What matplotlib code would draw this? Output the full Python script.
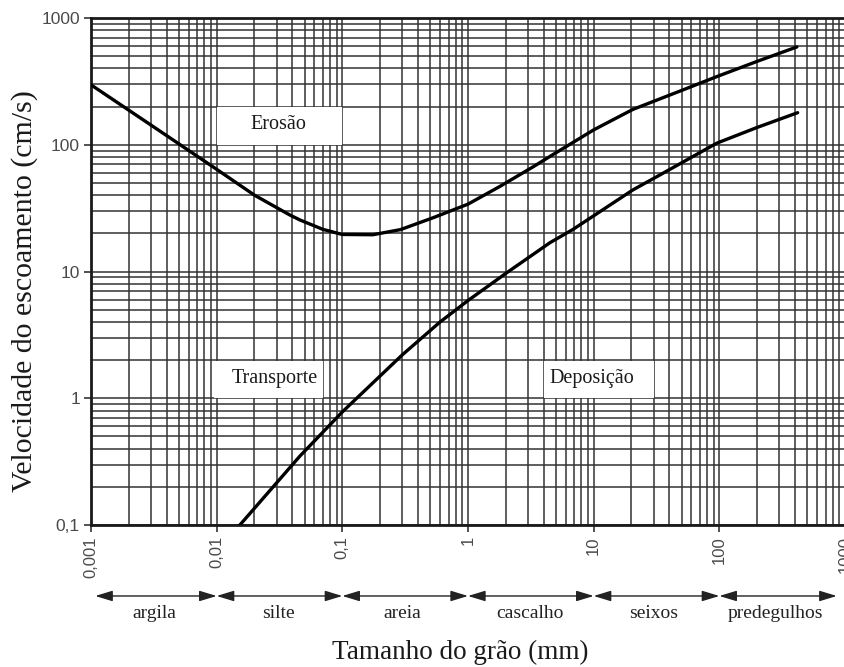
import matplotlib
matplotlib.use("Agg")
import matplotlib.pyplot as plt
from matplotlib import font_manager
from matplotlib.patches import Rectangle

# ---- data ----
erosion_x = [0.001, 0.003, 0.01, 0.02, 0.038, 0.046, 0.07, 0.1, 0.175, 0.29, 0.53, 1.0,
             1.8, 3.3, 4.5, 10, 20.5, 50, 95.6, 200, 414]
erosion_y = [297, 143, 64, 40, 28, 25.5, 21.5, 19.6, 19.5, 21.4, 26.6, 34,
             47, 67, 81, 131, 190, 268, 345, 455, 591]

deposition_x = [0.0153, 0.046, 0.1, 0.3, 0.6, 1.0, 2.04, 4.5, 6.8, 10, 20.5, 31.8, 95.6, 200, 420]
deposition_y = [0.1, 0.35, 0.78, 2.2, 4.0, 5.9, 9.8, 16.9, 21.4, 27.5, 44, 56, 103, 137, 179]

x_ticks = [0.001, 0.01, 0.1, 1, 10, 100, 1000]
x_ticklabels = ["0,001", "0,01", "0,1", "1", "10", "100", "1000"]
y_ticks = [0.1, 1, 10, 100, 1000]
y_ticklabels = ["0,1", "1", "10", "100", "1000"]

class_bounds = [0.00108, 0.01, 0.1, 1, 10, 100, 860]
class_names = ["argila", "silte", "areia", "cascalho", "seixos", "predegulhos"]
class_label_x = [0.0032, 0.031, 0.3, 3.1, 30, 280]

region_labels = ["Erosão", "Transporte", "Deposição"]
region_text_xy = [(0.031, 145), (0.029, 1.42), (9.7, 1.42)]
region_boxes = [(0.01, 0.1, 100, 200), (0.0095, 0.07, 1.0, 1.97), (4.0, 30, 1.0, 1.97)]

# ---- fonts ----
avail = {f.name for f in font_manager.fontManager.ttflist}
serif = "Liberation Serif" if "Liberation Serif" in avail else "DejaVu Serif"
sans = "Liberation Sans" if "Liberation Sans" in avail else "DejaVu Sans"
narrow = "Liberation Sans Narrow" if "Liberation Sans Narrow" in avail else None

fig = plt.figure(figsize=(8.44, 6.67), dpi=100)
ax = fig.add_axes([91 / 844, 1 - 525 / 667, (845 - 91) / 844, 507 / 667])
ax.set_xscale("log")
ax.set_yscale("log")
ax.set_xlim(0.001, 1000)
ax.set_ylim(0.1, 1000)

ax.grid(True, which="both", color="#333333", linewidth=1.1, zorder=1)
ax.set_axisbelow(True)

# white boxes behind region labels
for (x0, x1, y0, y1) in region_boxes:
    ax.add_patch(Rectangle((x0, y0), x1 - x0, y1 - y0, facecolor="white",
                           edgecolor="none", zorder=1.5))
for lab, (tx, ty) in zip(region_labels, region_text_xy):
    ax.text(tx, ty, lab, ha="center", va="center", fontsize=14.5, family=serif,
            color="#1a1a1a", zorder=2)

ax.plot(erosion_x, erosion_y, color="black", lw=2.4, zorder=3, solid_capstyle="round")
ax.plot(deposition_x, deposition_y, color="black", lw=2.4, zorder=3, solid_capstyle="round")

for side in ["left", "bottom", "top"]:
    ax.spines[side].set_linewidth(2.0)
    ax.spines[side].set_color("#1a1a1a")
ax.spines["right"].set_visible(False)

ax.set_xticks(x_ticks)
ax.set_yticks(y_ticks)
ax.set_xticklabels(x_ticklabels, rotation=90)
ax.set_yticklabels(y_ticklabels)
ax.tick_params(which="minor", length=0)
ax.tick_params(which="major", direction="out", length=5, width=1.2, color="#333333",
               labelcolor="#4a4a4a", pad=3)
for t in ax.get_yticklabels():
    t.set_family(sans)
    t.set_fontsize(12.5)
for t in ax.get_xticklabels():
    if narrow:
        t.set_family(narrow)
        t.set_fontsize(14.5)
    else:
        t.set_family(sans)
        t.set_fontsize(12)

# grain-size class arrows below the axis
arrow_y = -0.14
for i in range(len(class_names)):
    ax.annotate("", xy=(class_bounds[i + 1], arrow_y), xytext=(class_bounds[i], arrow_y),
                xycoords=("data", "axes fraction"), textcoords=("data", "axes fraction"),
                arrowprops=dict(arrowstyle="<|-|>,head_length=1.05,head_width=0.32",
                                mutation_scale=10, shrinkA=0, shrinkB=0,
                                color="#222222", lw=1.0),
                annotation_clip=False)
    ax.text(class_label_x[i], -0.174, class_names[i], transform=ax.get_xaxis_transform(),
            ha="center", va="center", fontsize=14, family=serif, color="#222222",
            clip_on=False)

fig.text(25 / 844, 1 - 291 / 667, "Velocidade do escoamento (cm/s)", rotation=90,
         ha="center", va="center", fontsize=21.5, family=serif, color="#1a1a1a")
fig.text(460 / 844, 1 - 652 / 667, "Tamanho do grão (mm)", ha="center", va="center",
         fontsize=19.5, family=serif, color="#1a1a1a")

fig.savefig("out.png", dpi=100)
